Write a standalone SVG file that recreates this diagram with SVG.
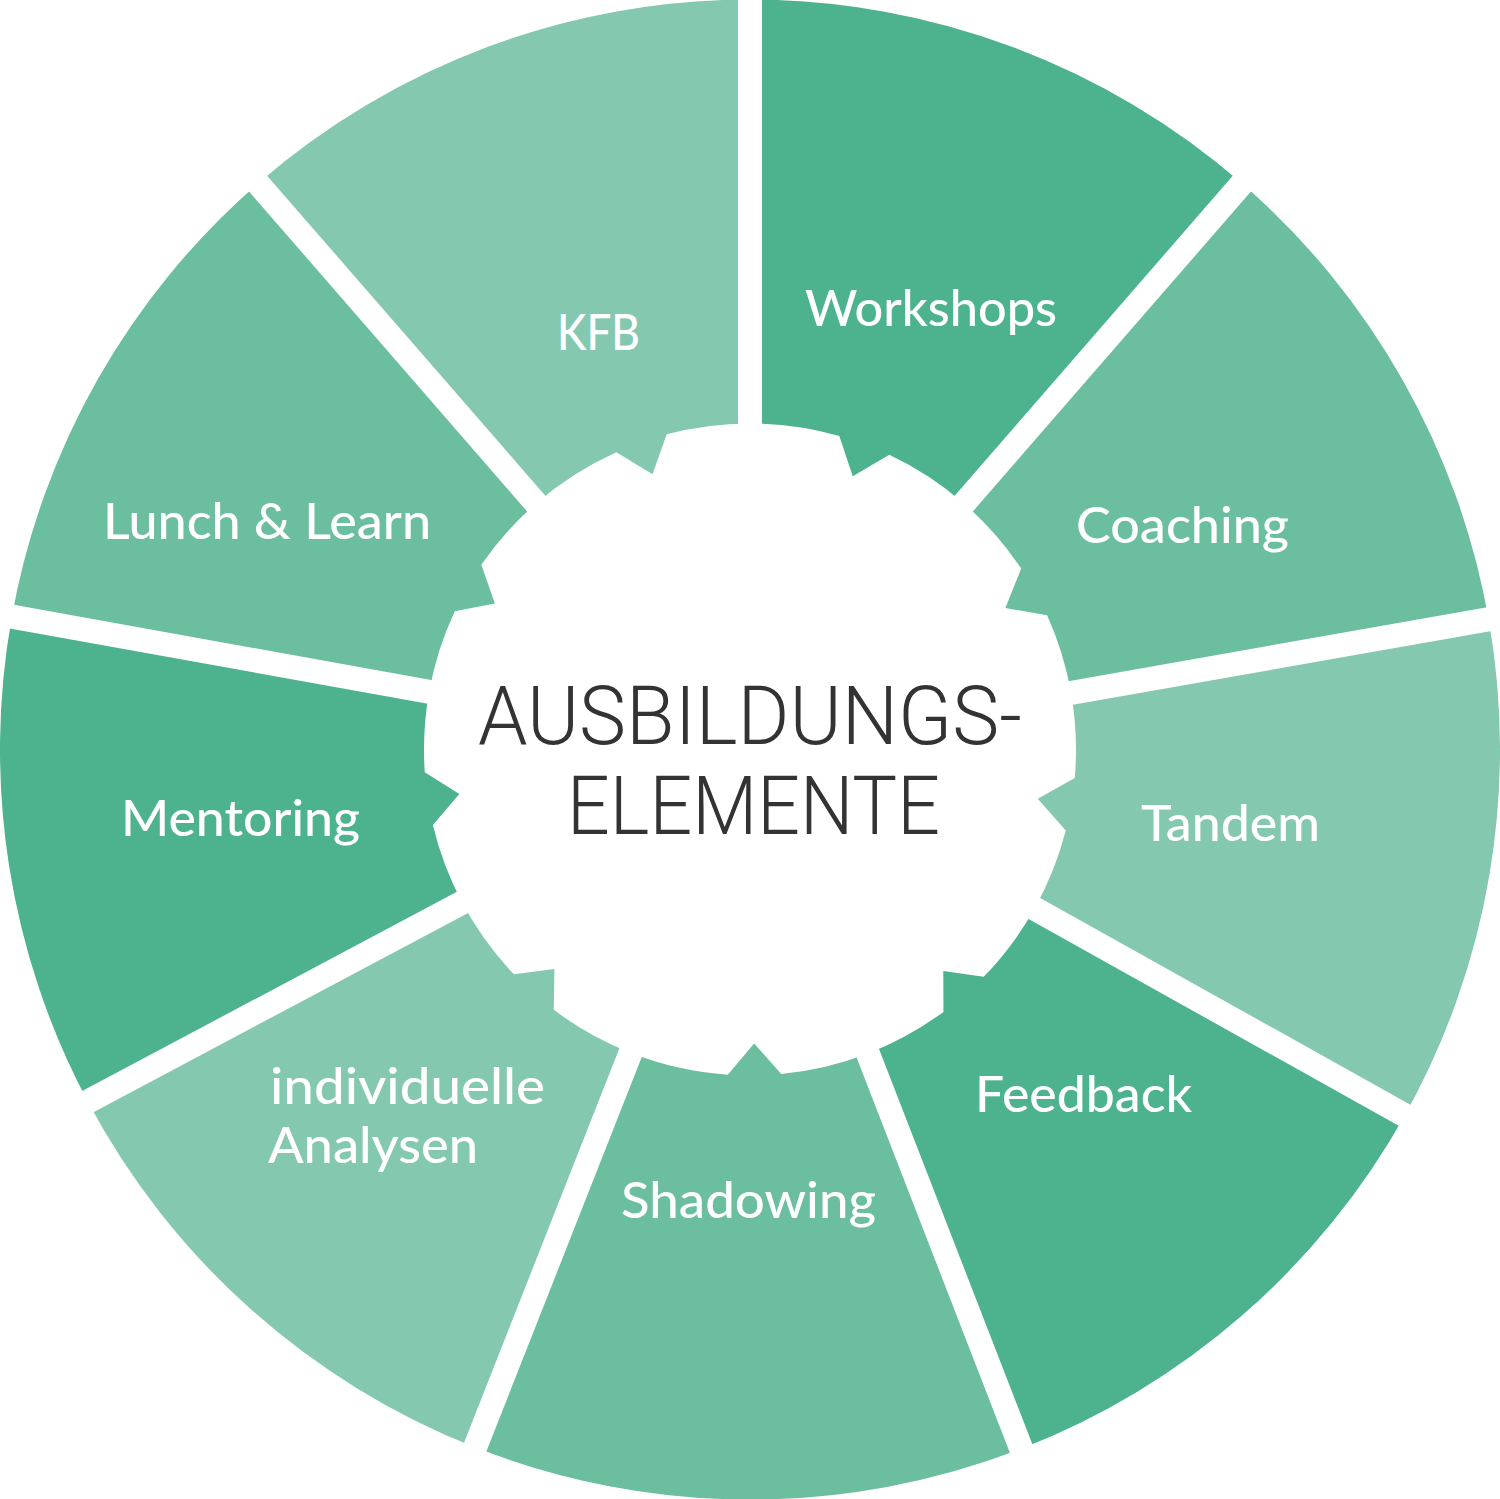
<svg xmlns="http://www.w3.org/2000/svg" width="1500" height="1499" viewBox="0 0 1500 1499">
<style>
.dark{fill:#4db38f}
.med{fill:#6bbe9e}
.light{fill:#84c8af}
.label{font-family:Lato,"Open Sans","Noto Sans",sans-serif;font-size:50px;fill:#ffffff;font-weight:500}
.title{font-family:Roboto,Lato,"Liberation Sans",sans-serif;font-size:81px;fill:#333333;font-weight:300}
</style>
<defs>
<mask id="gaps" maskUnits="userSpaceOnUse" x="0" y="0" width="1500" height="1499">
<rect x="0" y="0" width="1500" height="1499" fill="#ffffff"/>
<g stroke="#000000" stroke-width="24">
<line x1="750" y1="749.5" x2="750" y2="-50.5"/>
<line x1="750" y1="749.5" x2="1274.85" y2="145.73"/>
<line x1="750" y1="749.5" x2="1537.85" y2="610.58"/>
<line x1="750" y1="749.5" x2="1448.34" y2="1139.79"/>
<line x1="750" y1="749.5" x2="1039.30" y2="1495.36"/>
<line x1="750" y1="749.5" x2="456.80" y2="1493.84"/>
<line x1="750" y1="749.5" x2="43.64" y2="1125.08"/>
<line x1="750" y1="749.5" x2="-37.36" y2="607.84"/>
<line x1="750" y1="749.5" x2="225.15" y2="145.73"/>
</g>
</mask>
</defs>
<rect x="0" y="0" width="1500" height="1499" fill="#ffffff"/>
<g id="wheel" mask="url(#gaps)">
<g id="workshops">
<path class="dark" d="M750,-0.5 A750,750 0 0 1 1242.05,183.47 L963.88,503.46 A326,326 0 0 0 889.32,454.77 L852.74,476.17 L839.31,435.97 A326,326 0 0 0 750,423.5 Z"/>
</g>
<g id="coaching">
<path class="med" d="M1242.05,183.47 A750,750 0 0 1 1488.61,619.26 L1071.05,692.89 A326,326 0 0 0 1047.12,615.35 L1005.39,607.94 L1021.22,568.62 A326,326 0 0 0 963.88,503.46 Z"/>
</g>
<g id="tandem">
<path class="light" d="M1488.61,619.26 A750,750 0 0 1 1404.69,1115.40 L1034.57,908.54 A326,326 0 0 0 1065.76,830.57 L1037.82,798.70 L1074.76,777.91 A326,326 0 0 0 1071.05,692.89 Z"/>
</g>
<g id="feedback">
<path class="dark" d="M1404.69,1115.40 A750,750 0 0 1 1021.22,1448.74 L867.89,1053.44 A326,326 0 0 0 943.45,1011.89 L943.27,971.05 L983.71,976.78 A326,326 0 0 0 1034.57,908.54 Z"/>
</g>
<g id="shadowing">
<path class="med" d="M1021.22,1448.74 A750,750 0 0 1 475.12,1447.32 L630.52,1052.82 A326,326 0 0 0 727.83,1074.74 L754.10,1043.47 L781.25,1074.00 A326,326 0 0 0 867.89,1053.44 Z"/>
</g>
<g id="analysen">
<path class="light" d="M475.12,1447.32 A750,750 0 0 1 87.79,1101.60 L462.16,902.55 A326,326 0 0 0 513.92,974.32 L554.42,969.01 L553.81,1009.86 A326,326 0 0 0 630.52,1052.82 Z"/>
</g>
<g id="mentoring">
<path class="dark" d="M87.79,1101.60 A750,750 0 0 1 11.85,616.69 L429.15,691.77 A326,326 0 0 0 424.80,772.24 L459.38,793.97 L432.87,825.06 A326,326 0 0 0 462.16,902.55 Z"/>
</g>
<g id="lunch">
<path class="med" d="M11.85,616.69 A750,750 0 0 1 257.95,183.47 L536.12,503.46 A326,326 0 0 0 481.33,564.85 L494.85,603.42 L454.78,611.21 A326,326 0 0 0 429.15,691.77 Z"/>
</g>
<g id="kfb">
<path class="light" d="M257.95,183.47 A750,750 0 0 1 750,-0.5 L750,423.5 A326,326 0 0 0 666.72,434.32 L652.53,474.25 L616.37,452.15 A326,326 0 0 0 536.12,503.46 Z"/>
</g>
</g>
<g id="labels">
<text class="label" x="805" y="326" textLength="252" lengthAdjust="spacingAndGlyphs">Workshops</text>
<text class="label" x="557" y="350" textLength="83" lengthAdjust="spacingAndGlyphs">KFB</text>
<text class="label" x="1076" y="543" textLength="213" lengthAdjust="spacingAndGlyphs">Coaching</text>
<text class="label" x="103" y="539" textLength="328" lengthAdjust="spacingAndGlyphs">Lunch &amp; Learn</text>
<text class="label" x="1141" y="841" textLength="179" lengthAdjust="spacingAndGlyphs">Tandem</text>
<text class="label" x="121" y="836" textLength="239" lengthAdjust="spacingAndGlyphs">Mentoring</text>
<text class="label" x="975" y="1112" textLength="217" lengthAdjust="spacingAndGlyphs">Feedback</text>
<text class="label" x="270" y="1104" textLength="275" lengthAdjust="spacingAndGlyphs">individuelle</text>
<text class="label" x="268" y="1163" textLength="210" lengthAdjust="spacingAndGlyphs">Analysen</text>
<text class="label" x="621" y="1218" textLength="255" lengthAdjust="spacingAndGlyphs">Shadowing</text>
</g>
<g id="center">
<text class="title" x="478" y="744" textLength="544" lengthAdjust="spacingAndGlyphs">AUSBILDUNGS-</text>
<text class="title" x="567" y="834" textLength="373" lengthAdjust="spacingAndGlyphs">ELEMENTE</text>
</g>
</svg>
